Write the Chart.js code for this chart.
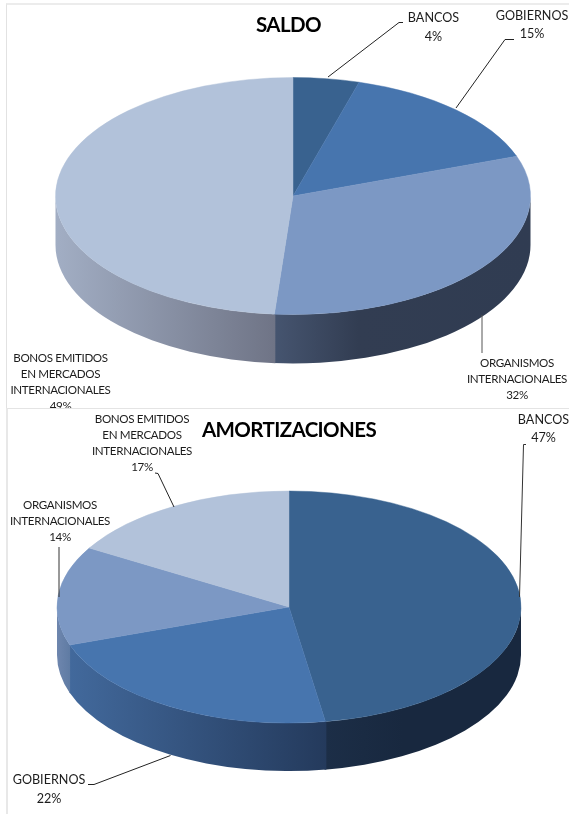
<!DOCTYPE html>
<html><head><meta charset="utf-8">
<script src="https://cdn.jsdelivr.net/npm/chart.js@4"></script>
<style>
html,body{margin:0;padding:0;background:#fff;width:569px;height:814px;overflow:hidden}
.panel{position:absolute;background:#fff;box-sizing:border-box;overflow:hidden}
#p1{left:6px;top:3px;width:563px;height:406px;border-left:1px solid #e2e2e2;border-top:2px solid #ececec}
#p2{left:6px;top:408px;width:563px;height:406px;border-left:2px solid #e8e8e8;border-top:1px solid #e4e4e4}
canvas{position:absolute;display:block;filter:blur(.45px)}
</style></head><body>
<div class="panel" id="p1"><canvas id="c1" style="left:-7px;top:-5px"></canvas></div>
<div class="panel" id="p2"><canvas id="c2" style="left:-8px;top:-1px"></canvas></div>
<script>
// --- data ---
const saldoTitle = 'SALDO';
const saldoCategories = [['BANCOS'], ['GOBIERNOS'], ['ORGANISMOS','INTERNACIONALES'], ['BONOS EMITIDOS','EN MERCADOS','INTERNACIONALES']];
const saldoValues = [4.49, 15.06, 31.7, 48.75];
const amortTitle = 'AMORTIZACIONES';
const amortCategories = [['BANCOS'], ['GOBIERNOS'], ['ORGANISMOS','INTERNACIONALES'], ['BONOS EMITIDOS','EN MERCADOS','INTERNACIONALES']];
const amortValues = [47.49, 22.2, 13.8, 16.51];

// --- style ---
const sliceColors = ['#39628F', '#4775AE', '#7C98C4', '#B2C2DA'];
const saldoWalls = [null, null,
  [[0,'#465570'],[0.33,'#323D52'],[1,'#303C52']],
  [[0,'#A2AEC4'],[1,'#6F7486']]];
const amortWalls = [
  [[0,'#1C2E47'],[0.4,'#18283F'],[1,'#18283F']],
  [[0,'#42699C'],[1,'#243A5C']],
  [[0,'#6E86AE'],[1,'#5F7BA3']], null];
const FONT = 'Lato, Carlito, sans-serif';

const saldoLayout = {
  cx:293, cy:196, rx:237.5, ry:118.5, depth:49, w:569, h:408,
  titlePos:[288.5,25], walls:saldoWalls,
  labels:[[433.5,18],[532,15.5],[517,363],[60.5,358]],
  leaders:[
    {color:'#222',pts:[[328,77],[399,22.5],[403,22.5]]},
    {color:'#222',pts:[[456,108],[505,39.5],[514,39.5]]},
    {color:'#555',pts:[[482,315],[482,353]]}
  ]
};
const amortLayout = {
  cx:289, cy:607, rx:232, ry:116, depth:48, w:569, h:814,
  titlePos:[289,430], walls:amortWalls,
  labels:[[543.5,419.5],[49,780],[60,505],[142,419]],
  leaders:[
    {color:'#333',pts:[[526,444.5],[523.5,444.5],[519.5,597]]},
    {color:'#222',pts:[[88,784.5],[94,784.5],[170.5,755.5]]},
    {color:'#333',pts:[[59,547],[59,597]]},
    {color:'#222',pts:[[155,473],[158,473.5],[174,507]]}
  ]
};

const pie3d = {
  id:'pie3d',
  beforeDatasetsDraw(chart, args, o){
    const ctx = chart.ctx, L = o.layout, arcs = chart.getDatasetMeta(0).data;
    const cx = arcs[0].x, cy = arcs[0].y;
    arcs.forEach((arc,i)=>{
      const stops = L.walls[i];
      if(!stops) return;
      const a0 = Math.max(arc.startAngle-0.004,0), a1 = Math.min(arc.endAngle+0.004,Math.PI);
      if(a1<=a0) return;
      const xa = cx+L.rx*Math.cos(a1), xb = cx+L.rx*Math.cos(a0);
      const g = ctx.createLinearGradient(xa,0,xb,0);
      stops.forEach(s=>g.addColorStop(s[0],s[1]));
      ctx.save();
      ctx.beginPath();
      ctx.ellipse(cx,cy,L.rx,L.ry,0,a0,a1,false);
      ctx.ellipse(cx,cy+L.depth,L.rx,L.ry,0,a1,a0,true);
      ctx.closePath();
      ctx.fillStyle = g;
      ctx.fill();
      ctx.restore();
    });
    ctx.save();
    ctx.translate(cx,cy);
    ctx.scale(1,L.ry/L.rx);
    ctx.translate(-cx,-cy);
  },
  afterDatasetsDraw(chart, args, o){
    const ctx = chart.ctx, L = o.layout;
    ctx.restore();
    ctx.save();
    L.leaders.forEach(l=>{
      ctx.beginPath();
      l.pts.forEach((p,i)=> i?ctx.lineTo(p[0],p[1]-o.dy):ctx.moveTo(p[0],p[1]-o.dy));
      ctx.strokeStyle = l.color; ctx.lineWidth = 1; ctx.stroke();
    });
    const vals = chart.data.datasets[0].data, total = vals.reduce((a,b)=>a+b,0);
    ctx.fillStyle = '#1c1c1c';
    ctx.textAlign = 'center'; ctx.textBaseline = 'middle';
    chart.data.labels.forEach((lines,i)=>{
      const [x,y] = L.labels[i];
      const rows = lines.concat([Math.round(vals[i]/total*100)+'%']);
      const short = rows.length===2;
      const step = short ? 18.5 : 16;
      ctx.font = (short?'12.6px ':'11.6px ')+FONT;
      ctx.letterSpacing = short ? '0px' : '-0.35px';
      rows.forEach((t,j)=>ctx.fillText(t,x,y+j*step-o.dy));
    });
    ctx.fillStyle = '#000';
    ctx.font = 'bold 20.5px '+FONT;
    ctx.letterSpacing = '-0.6px';
    ctx.fillText(o.title,L.titlePos[0],L.titlePos[1]-o.dy);
    ctx.restore();
  }
};

function makePie(id, categories, values, title, L, dy){
  const cv = document.getElementById(id);
  cv.width = 569; cv.height = L.h-dy;
  cv.style.width = '569px'; cv.style.height = (L.h-dy)+'px';
  const cyLocal = L.cy-dy, H = L.h-dy;
  new Chart(cv,{
    type:'pie',
    data:{labels:categories,datasets:[{data:values,backgroundColor:sliceColors,borderColor:sliceColors,borderWidth:0.6,radius:L.rx,clip:false}]},
    plugins:[pie3d],
    options:{
      responsive:false,animation:false,
      layout:{padding:{
        left:Math.max(0,2*L.cx-569), right:Math.max(0,569-2*L.cx),
        top:Math.max(0,2*cyLocal-H), bottom:Math.max(0,H-2*cyLocal)}},
      plugins:{legend:{display:false},tooltip:{enabled:false},pie3d:{layout:L,title:title,dy:dy}}
    }
  });
}
makePie('c1', saldoCategories, saldoValues, saldoTitle, saldoLayout, 0);
makePie('c2', amortCategories, amortValues, amortTitle, amortLayout, 408);
</script>
</body></html>
